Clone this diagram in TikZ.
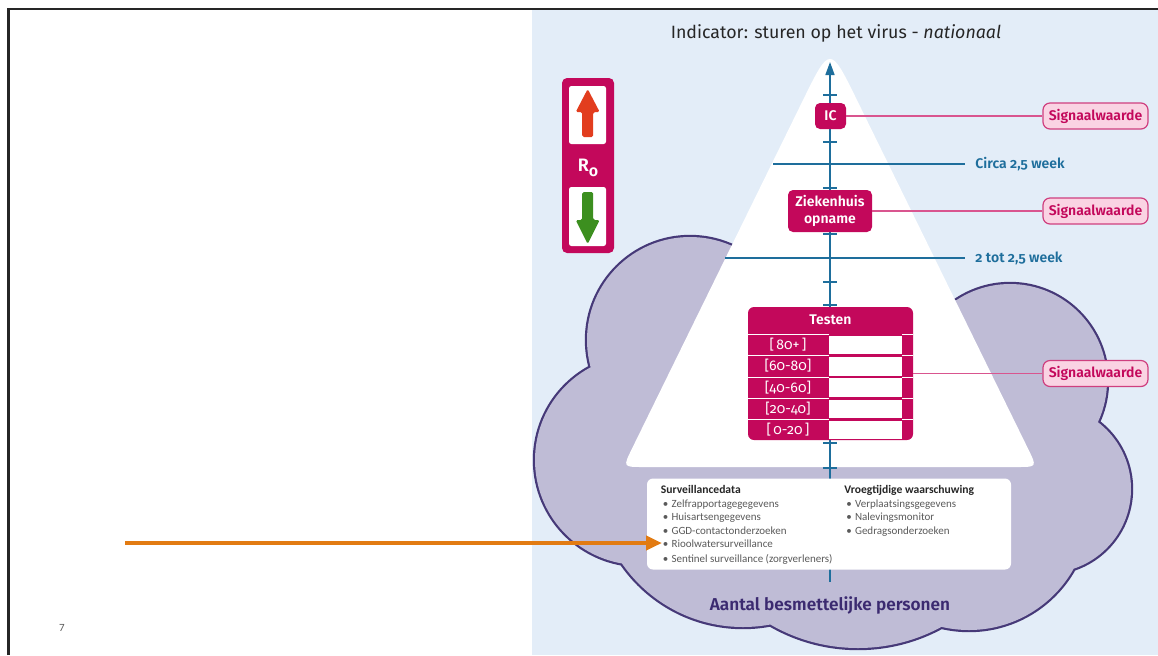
\documentclass[tikz,border=0pt]{standalone}
\usepackage{fontspec}
\setmainfont{Fira Sans}[Numbers=OldStyle, RawFeature=+onum, BoldFont={Fira Sans SemiBold}, ItalicFont={Fira Sans Italic}, BoldItalicFont={Fira Sans SemiBold Italic}]
\newfontfamily\boxfont{Carlito}
\newcommand\survhead{\bfseries\fontsize{5.8}{6.75}\selectfont}
\usetikzlibrary{arrows.meta}
\definecolor{mag}{HTML}{C3085B}
\definecolor{sigborder}{HTML}{CF3F7F}
\definecolor{pinkfill}{HTML}{FAD3E3}
\definecolor{pinkline}{HTML}{D9558F}
\definecolor{axiscol}{HTML}{1E6E9C}
\definecolor{bgblue}{HTML}{E3EDF8}
\definecolor{cloudfill}{HTML}{BFBCD6}
\definecolor{cloudline}{HTML}{463978}
\definecolor{purpletext}{HTML}{3B2A70}
\definecolor{arrowred}{HTML}{E23D1E}
\definecolor{arrowgreen}{HTML}{3C8F1F}
\definecolor{orangearrow}{HTML}{E27B12}
\definecolor{graytext}{HTML}{5A5A5A}
\begin{document}
\begin{tikzpicture}[x=0.5pt,y=-0.5pt,
  magbox/.style={fill=mag, text=white, rounded corners=2.5pt, inner sep=0pt, font=\bfseries\fontsize{7}{8.5}\selectfont, align=center},
  sigbox/.style={draw=sigborder, line width=0.6pt, fill=pinkfill, text=mag, rounded corners=3.5pt, minimum width=52.5pt, minimum height=13pt, inner sep=0pt, font=\bfseries\fontsize{7}{8}\selectfont},
  sigline/.style={draw=pinkline, line width=0.6pt},
  tealline/.style={draw=axiscol, line width=1pt},
  teallabel/.style={text=axiscol, font=\bfseries\fontsize{7}{8}\selectfont, inner sep=2pt, anchor=west},
  tickmark/.style={draw=axiscol, line width=0.7pt},
  rowlabel/.style={text=white, font=\fontsize{7}{8}\selectfont, inner sep=0pt},
  boxtext/.style={font=\boxfont\fontsize{5.5}{6.75}\selectfont, align=left, inner sep=0pt, anchor=north west, text=graytext}
]
\useasboundingbox (0,0) rectangle (1158,655);
% background panel
\fill[bgblue] (532,9) rectangle (1158,655);
% frame
\draw[line width=1.3pt, black!85] (8.5,655) -- (8.5,9) -- (1158,9);

% cloud
\def\cloudcircles{(690,340) circle[radius=103] (640,460) circle[radius=105] (743,480) circle[radius=147] (858,473) circle[radius=175] (969,510) circle[radius=120] (1047,489) circle[radius=84] (1010,381) circle[radius=97]}
\draw[cloudline, line width=2.2pt] \cloudcircles;
\fill[cloudfill] \cloudcircles;
\fill[cloudfill] (640,300) -- (1000,300) -- (1090,480) -- (940,600) -- (720,600) -- (580,460) -- cycle;

% white pyramid
\fill[white] (802.7,100.7) .. controls (830,45) .. (857.3,100.7) -- (1028.2,449) .. controls (1037,467) .. (1017,467) -- (643,467) .. controls (623,467) .. (631.8,449) -- cycle;

% axis
\coordinate (axb) at (830,582);
\coordinate (axt) at (830,62);
\draw[axiscol, line width=0.8pt, -{Triangle[length=6.5pt,width=4.5pt]}] (axb) -- (axt);
\foreach \yy in {95,142,188,234,282,305,443,468} \draw[tickmark] (823,\yy) -- (837,\yy);

% time lines
\coordinate (l1) at (773,164);
\node[teallabel] (circa) at (971,164) {Circa 2,5 week};
\draw[tealline, shorten >=3pt] (l1) -- (circa.west);
\coordinate (l2) at (725,258);
\node[teallabel] (tot) at (971,258) {2 tot 2,5 week};
\draw[tealline, shorten >=3pt] (l2) -- (tot.west);

% title
\node[text=black!85, font=\fontsize{8.9}{10}\selectfont] (title) at (836,33) {Indicator: sturen op het virus - \textit{nationaal}};

% IC and hospital boxes
\node[magbox, minimum width=15.5pt, minimum height=13pt] (ic) at (830.5,116) {IC};
\node[magbox, minimum width=42pt, minimum height=21pt] (zk) at (830,211) {Ziekenhuis\\opname};

% Testen table
\node[fill=mag, rounded corners=3pt, minimum width=82.5pt, minimum height=66.5pt, inner sep=0pt] (testen) at (830.5,373.5) {};
\node[text=white, font=\bfseries\fontsize{7}{8}\selectfont, inner sep=0pt] (testenhead) at (830.5,320) {Testen};
\foreach \ya/\yb in {335.5/354.2, 356.8/375.8, 378.2/397.2, 399.6/418.2, 420.6/438.5} \fill[white] (829,\ya) rectangle (902,\yb);
\foreach \yy in {334.2,355.5,377,398.4,419.4} {\draw[white, line width=0.5pt] (748,\yy) -- (829,\yy); \draw[white, line width=0.5pt] (902,\yy) -- (913,\yy);}
\node[rowlabel] (r1) at (788,345) {[\,80+\,]};
\node[rowlabel] (r2) at (788,366) {[60-80]};
\node[rowlabel] (r3) at (788,387.5) {[40-60]};
\node[rowlabel] (r4) at (788,408.5) {[20-40]};
\node[rowlabel] (r5) at (788,429.5) {[\,0-20\,]};

% Signaalwaarde
\node[sigbox] (s1) at (1095.5,116) {Signaalwaarde};
\node[sigbox] (s2) at (1095.5,211) {Signaalwaarde};
\node[sigbox] (s3) at (1095.5,373.5) {Signaalwaarde};
\draw[sigline] (ic.east) -- (s1.west);
\draw[sigline] (zk.east) -- (s2.west);
\draw[sigline] (testen.east) -- (s3.west);

% surveillance box
\node[fill=white, rounded corners=3pt, minimum width=182pt, minimum height=45.5pt, inner sep=0pt] (survbox) at (829,524) {};
\node[boxtext] (surv) at (660.5,485) {\textcolor{black!85}{\survhead Surveillancedata}\\
\hspace*{1pt}\textbullet\hspace{1.6pt}Zelfrapportagegegevens\\
\hspace*{1pt}\textbullet\hspace{1.6pt}Huisartsengegevens\\
\hspace*{1pt}\textbullet\hspace{1.6pt}GGD-contactonderzoeken\\
\hspace*{1pt}\textbullet\hspace{1.6pt}Rioolwatersurveillance\\[0.8pt]
\hspace*{1pt}\textbullet\hspace{1.6pt}Sentinel surveillance (zorgverleners)};
\node[boxtext] (vroeg) at (844,485) {\textcolor{black!85}{\survhead Vroegtijdige waarschuwing}\\
\hspace*{1pt}\textbullet\hspace{1.6pt}Verplaatsingsgegevens\\
\hspace*{1pt}\textbullet\hspace{1.6pt}Nalevingsmonitor\\
\hspace*{1pt}\textbullet\hspace{1.6pt}Gedragsonderzoeken};

% bottom label
\node[text=purpletext, font=\bfseries\fontsize{8.6}{10}\selectfont] (aantal) at (830,605) {Aantal besmettelijke personen};

% R0 box
\node[fill=mag, rounded corners=2.5pt, minimum width=26pt, minimum height=87.5pt, inner sep=0pt] (rbox) at (588,165.5) {};
\node[fill=white, rounded corners=1.2pt, minimum width=18.5pt, minimum height=29pt, inner sep=0pt] (upbox) at (587.5,115) {};
\node[fill=white, rounded corners=1.2pt, minimum width=18.5pt, minimum height=29.5pt, inner sep=0pt] (downbox) at (587.5,216.5) {};
\fill[arrowred, rounded corners=0.8pt] (587.7,89) -- (599.7,112) -- (593.2,112) -- (593.2,137) -- (582.2,137) -- (582.2,112) -- (575.7,112) -- cycle;
\fill[arrowgreen, rounded corners=0.8pt] (587.7,244) -- (599.7,220) -- (593.2,220) -- (593.2,192) -- (582.2,192) -- (582.2,220) -- (575.7,220) -- cycle;
\node[text=white, font=\bfseries\fontsize{9}{10}\selectfont, inner sep=0pt] (rnull) at (588,168) {R\raisebox{-2.2pt}{\fontsize{8}{9}\selectfont o}};

% page number
\node[text=graytext, font=\boxfont\fontsize{5.5}{6}\selectfont] (pagenr) at (62,628) {7};

% orange arrow
\coordinate (oa) at (125,543);
\coordinate (ob) at (662,543);
\draw[orangearrow, line width=2.3pt, -{Triangle[length=8pt,width=7pt]}] (oa) -- (ob);
\end{tikzpicture}
\end{document}
